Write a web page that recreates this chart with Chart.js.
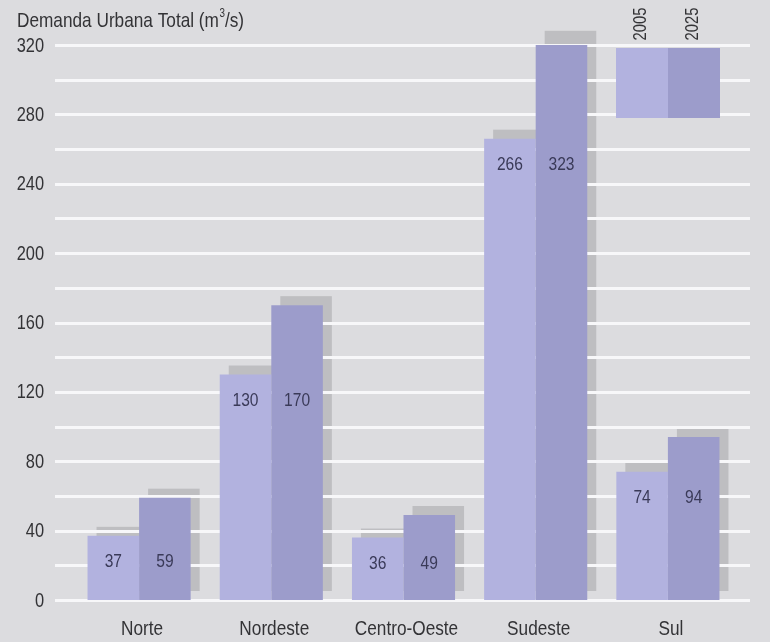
<!DOCTYPE html>
<html><head><meta charset="utf-8">
<script src="https://cdn.jsdelivr.net/npm/chart.js@4.4.1/dist/chart.umd.min.js"></script>
<style>html,body{margin:0;padding:0;background:#dcdcdf;overflow:hidden}</style>
</head><body>
<canvas id="c" width="770" height="642" style="display:block;width:770px;height:642px"></canvas>
<script>
const categories = ['Norte', 'Nordeste', 'Centro-Oeste', 'Sudeste', 'Sul'];
const seriesNames = ['2005', '2025'];
const values2005 = [37, 130, 36, 266, 74];
const values2025 = [59, 170, 49, 323, 94];
const yTickLabels = [0, 40, 80, 120, 160, 200, 240, 280, 320];
const titleParts = ['Demanda Urbana Total (m', '3', '/s)'];

const FONT = "'Liberation Sans', Arial, sans-serif";
const SQUEEZE = 0.82;
const colors = ['#b2b2df', '#9c9ccb'];
const TEXT = '#333336';

function condText(ctx, text, x, y, size, align, baseline, color) {
  ctx.save();
  ctx.translate(x, y);
  ctx.scale(SQUEEZE, 1);
  ctx.font = size + 'px ' + FONT;
  ctx.fillStyle = color || TEXT;
  ctx.textAlign = align;
  ctx.textBaseline = baseline;
  ctx.fillText(text, 0, 0);
  const w = ctx.measureText(text).width * SQUEEZE;
  ctx.restore();
  return w;
}

const decor = {
  id: 'decor',
  beforeDraw(chart) {
    const ctx = chart.ctx;
    ctx.save();
    ctx.fillStyle = '#dcdcdf';
    ctx.fillRect(0, 0, chart.width, chart.height);
    ctx.restore();
  },
  beforeDatasetsDraw(chart) {
    const ctx = chart.ctx;
    const y = chart.scales.y;
    ctx.save();
    ctx.fillStyle = '#bebec1';
    chart.data.datasets.forEach((ds, i) => {
      chart.getDatasetMeta(i).data.forEach(bar => {
        const p = bar.getProps(['x', 'y', 'base', 'width'], true);
        ctx.fillRect(p.x - p.width / 2 + 9, p.y - 9, p.width, p.base - p.y);
      });
    });
    ctx.strokeStyle = '#f7f7f9';
    ctx.lineWidth = 3;
    y.ticks.forEach(t => {
      const py = Math.round(y.getPixelForValue(t.value)) + 0.5;
      ctx.beginPath();
      ctx.moveTo(55, py);
      ctx.lineTo(750, py);
      ctx.stroke();
    });
    ctx.restore();
  },
  afterDatasetsDraw(chart) {
    const ctx = chart.ctx;
    const y = chart.scales.y;
    const x = chart.scales.x;
    categories.forEach((c, j) => {
      const minV = Math.min(values2005[j], values2025[j]);
      const ly = y.getPixelForValue(minV) + 26;
      chart.data.datasets.forEach((ds, i) => {
        const bar = chart.getDatasetMeta(i).data[j];
        condText(ctx, String(ds.data[j]), bar.x, ly, 19, 'center', 'middle', '#3a3a58');
      });
    });
    y.ticks.forEach(t => {
      if (yTickLabels.includes(t.value)) {
        condText(ctx, String(t.value), 44, y.getPixelForValue(t.value) + 1, 20, 'right', 'middle');
      }
    });
    categories.forEach((c, j) => {
      condText(ctx, c, x.getPixelForValue(j) + 3, 629, 21, 'center', 'middle');
    });
    const lx = 616, ly0 = 48, lw = 52, lh = 70;
    seriesNames.forEach((n, i) => {
      ctx.save();
      ctx.fillStyle = colors[i];
      ctx.fillRect(lx + i * lw, ly0, lw, lh);
      ctx.translate(lx + i * lw + lw / 2 - 1, 24);
      ctx.rotate(-Math.PI / 2);
      condText(ctx, n, 0, 0, 18, 'center', 'middle');
      ctx.restore();
    });
  },
  afterDraw(chart) {
    const ctx = chart.ctx;
    let x = 17;
    x += condText(ctx, titleParts[0], x, 27, 21, 'left', 'alphabetic');
    x += condText(ctx, titleParts[1], x + 0.5, 17, 12, 'left', 'alphabetic');
    condText(ctx, titleParts[2], x + 0.5, 27, 21, 'left', 'alphabetic');
  }
};

new Chart(document.getElementById('c'), {
  type: 'bar',
  data: {
    labels: categories,
    datasets: [
      { label: seriesNames[0], data: values2005, backgroundColor: colors[0], borderWidth: 0 },
      { label: seriesNames[1], data: values2025, backgroundColor: colors[1], borderWidth: 0 }
    ]
  },
  options: {
    responsive: false,
    animation: false,
    devicePixelRatio: 1,
    categoryPercentage: 0.78,
    barPercentage: 1.0,
    layout: { padding: { left: 17, right: 36, top: 45, bottom: 0 } },
    plugins: { legend: { display: false }, tooltip: { enabled: false }, title: { display: false } },
    scales: {
      x: {
        grid: { display: false, drawTicks: false },
        border: { display: false },
        ticks: { color: 'rgba(0,0,0,0)', font: { family: FONT, size: 17 }, padding: 18, maxRotation: 0 },
        afterFit(s) { s.height = 42; }
      },
      y: {
        min: 0, max: 320,
        grid: { display: false, drawTicks: false },
        border: { display: false },
        ticks: {
          stepSize: 20,
          color: 'rgba(0,0,0,0)',
          font: { family: FONT, size: 17 },
          padding: 30,
          callback: v => yTickLabels.includes(v) ? String(v) : ''
        },
        afterFit(s) { s.width = 56; }
      }
    }
  },
  plugins: [decor]
});
</script>
</body></html>
